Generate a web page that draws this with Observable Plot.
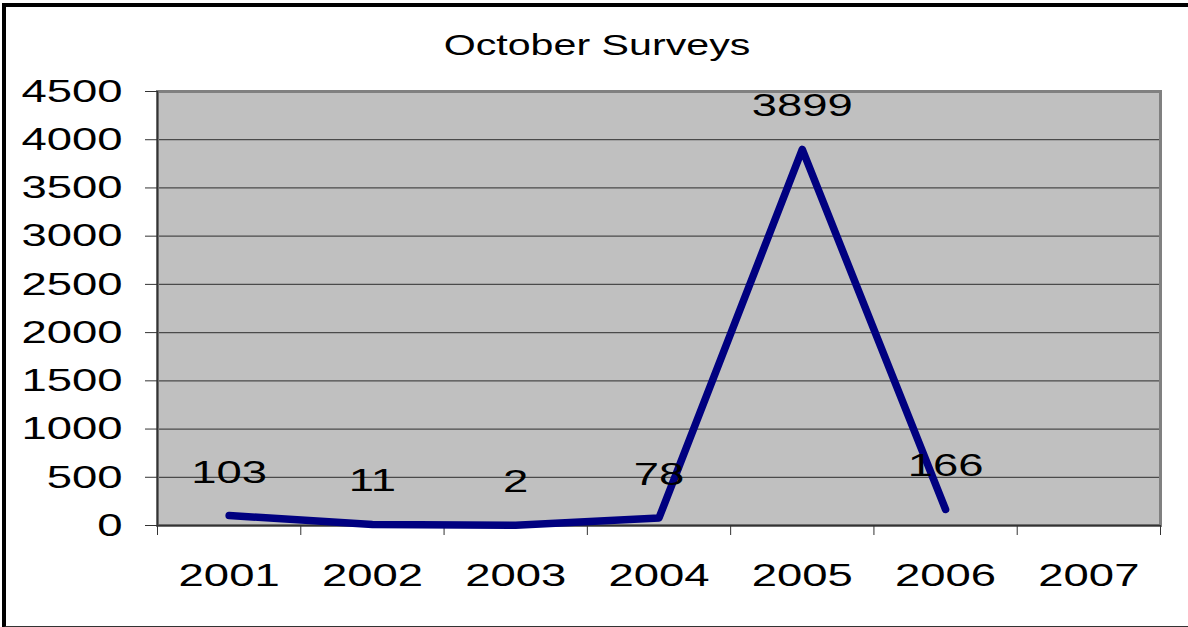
<!DOCTYPE html>
<html>
<head>
<meta charset="utf-8">
<script src="https://cdn.jsdelivr.net/npm/d3@7"></script>
<script src="https://cdn.jsdelivr.net/npm/@observablehq/plot@0.6"></script>
<style>
  html, body { margin: 0; padding: 0; background: #fff; }
  #wrap { position: relative; width: 1188px; height: 627px; overflow: hidden; }
  #border { position: absolute; left: 2px; top: 3px; width: 1190px; height: 619px;
            border-left: 4px solid #000; border-top: 4px solid #000; border-bottom: 2px solid #333;
            pointer-events: none; }
  svg { font-family: "Liberation Sans", Arial, sans-serif; }
</style>
</head>
<body>
<div id="wrap"><div id="border"></div></div>
<script>
const title = "October Surveys";
const years = [2001, 2002, 2003, 2004, 2005, 2006, 2007];
const values = [103, 11, 2, 78, 3899, 166];
const yTicks = [0, 500, 1000, 1500, 2000, 2500, 3000, 3500, 4000, 4500];

const data = values.map((v, i) => ({year: years[i], value: v}));
const bounds = d3.range(years.length + 1).map(i => years[0] - 0.5 + i);

const chart = Plot.plot({
  width: 1188,
  height: 627,
  marginLeft: 157,
  marginRight: 28,
  marginTop: 91,
  marginBottom: 102,
  style: {background: "transparent", fontFamily: "Liberation Sans, Arial, sans-serif"},
  x: {type: "linear", domain: [bounds[0], bounds[bounds.length - 1]]},
  y: {domain: [0, 4500]},
  marks: [
    Plot.frame({fill: "#C0C0C0", stroke: null}),
    Plot.gridY(yTicks, {stroke: "#4a4a4a", strokeOpacity: 1, strokeWidth: 1.2}),
    Plot.frame({stroke: "#808080", strokeWidth: 3}),
    Plot.ruleY([0], {stroke: "#333", strokeWidth: 1.5}),
    Plot.ruleX([bounds[0]], {stroke: "#333", strokeWidth: 1.5}),
    Plot.axisY(yTicks, {tickSize: 12, tickPadding: 23, fontSize: 32, stroke: "#333", fill: "#000", label: null, tickFormat: d => String(d)}),
    Plot.axisX(bounds, {tickSize: 10, stroke: "#333", tickFormat: () => "", label: null}),
    Plot.axisX(years, {tickSize: 0, tickPadding: 38, fontSize: 32, fill: "#000", label: null, tickFormat: d => String(d)}),
    Plot.line(data, {x: "year", y: "value", stroke: "#000080", strokeWidth: 7.5, strokeLinecap: "round", strokeLinejoin: "round"}),
    Plot.text(data, {x: "year", y: "value", text: d => String(d.value), fontSize: 32, fill: "#000", lineAnchor: "bottom", dy: -33}),
    Plot.text([title], {frameAnchor: "top", text: d => d, fontSize: 29, fill: "#000", dy: -57, dx: -62})
  ]
});

document.getElementById("wrap").prepend(chart);

// The reference text is horizontally stretched; widen glyphs to match.
chart.querySelectorAll("text").forEach(t => {
  const len = t.getComputedTextLength();
  if (len > 0) {
    t.setAttribute("textLength", (len * 1.42).toFixed(1));
    t.setAttribute("lengthAdjust", "spacingAndGlyphs");
  }
});
</script>
</body>
</html>
